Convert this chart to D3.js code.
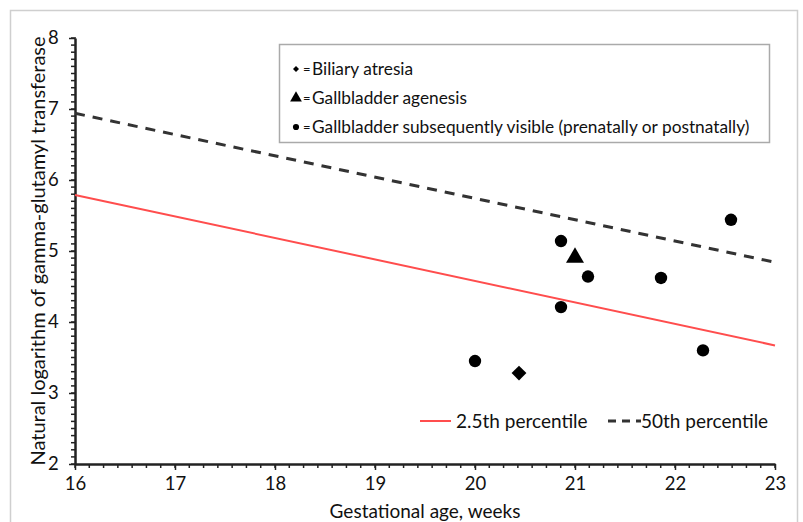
<!DOCTYPE html>
<html><head><meta charset="utf-8">
<script src="https://cdn.jsdelivr.net/npm/d3@7"></script>
<style>
body{margin:0;background:#fff;}
text{font-family:"Lato","Open Sans",sans-serif;fill:#111;}
</style></head>
<body><svg id="c" width="803" height="522"></svg>
<script>
// data
const xTicks = [16,17,18,19,20,21,22,23];
const yTicks = [2,3,4,5,6,7,8];
const circlePoints = [[20.0,3.45],[20.86,5.14],[21.13,4.64],[20.86,4.21],[21.86,4.62],[22.28,3.60],[22.56,5.44]];
const diamondPoints = [[20.44,3.28]];
const trianglePoints = [[21.0,4.92]];
const p25Line = [[16,5.79],[23,3.67]];
const p50Line = [[16,6.94],[23,4.84]];
const legendLabels = ["Biliary atresia","Gallbladder agenesis","Gallbladder subsequently visible (prenatally or postnatally)"];

const svg = d3.select("#c");
// outer frame
svg.append("rect").attr("x",10.5).attr("y",10.5).attr("width",787).attr("height",530)
  .attr("fill","none").attr("stroke","#cfcfcf").attr("stroke-width",1.5);

const x = d3.scaleLinear().domain([16,23]).range([75,775]);
const y = d3.scaleLinear().domain([2,8]).range([464,38]);

// minor ticks
const g = svg.append("g");
const xMinor = d3.range(16,23.0001,1/7);
g.selectAll(".xm").data(xMinor).join("line")
  .attr("x1",d=>x(d)).attr("x2",d=>x(d)).attr("y1",y(2)).attr("y2",y(2)+4)
  .attr("stroke","#222").attr("stroke-width",1.5);
const yMinor = d3.range(2,8.0001,0.1);
g.selectAll(".ym").data(yMinor).join("line")
  .attr("x1",x(16)-4).attr("x2",x(16)+1).attr("y1",d=>y(d)).attr("y2",d=>y(d))
  .attr("stroke","#222").attr("stroke-width",1.5);

// axes
const xAxis = svg.append("g").attr("transform",`translate(0,${y(2)})`)
  .call(d3.axisBottom(x).tickValues(xTicks).tickFormat(d3.format("d")).tickSize(6).tickSizeOuter(0));
const yAxis = svg.append("g").attr("transform",`translate(${x(16)},0)`)
  .call(d3.axisLeft(y).tickValues(yTicks).tickFormat(d3.format("d")).tickSize(6).tickSizeOuter(0));
[xAxis,yAxis].forEach(a=>{
  a.select(".domain").attr("stroke","#222").attr("stroke-width",2.5);
  a.selectAll(".tick line").attr("stroke","#222").attr("stroke-width",1.5);
  a.selectAll(".tick text").attr("font-size",18.5).attr("fill","#111");
});
xAxis.selectAll(".tick text").attr("dy","0.9em");
yAxis.selectAll(".tick text").attr("dx","-0.4em");

// titles
svg.append("text").attr("x",(x(16)+x(23))/2).attr("y",518).attr("text-anchor","middle")
  .attr("font-size",19).text("Gestational age, weeks");
svg.append("text").attr("transform",`translate(45,${(y(2)+y(8))/2}) rotate(-90)`)
  .attr("text-anchor","middle").attr("font-size",20)
  .text("Natural logarithm of gamma-glutamyl transferase");

// lines
const line = d3.line().x(d=>x(d[0])).y(d=>y(d[1]));
svg.append("path").datum(p25Line).attr("d",line).attr("fill","none")
  .attr("stroke","#ff4d4d").attr("stroke-width",2);
svg.append("path").datum(p50Line).attr("d",line).attr("fill","none")
  .attr("stroke","#333").attr("stroke-width",3).attr("stroke-dasharray","10,8");

// points
svg.selectAll(".pc").data(circlePoints).join("circle")
  .attr("cx",d=>x(d[0])).attr("cy",d=>y(d[1])).attr("r",6.2).attr("fill","#000");
const sym = (type,size)=>d3.symbol().type(type).size(size)();
svg.selectAll(".pd").data(diamondPoints).join("path")
  .attr("transform",d=>`translate(${x(d[0])},${y(d[1])}) rotate(45)`)
  .attr("d",sym(d3.symbolSquare,110)).attr("fill","#000");
svg.selectAll(".pt").data(trianglePoints).join("path")
  .attr("transform",d=>`translate(${x(d[0])},${y(d[1])+1})`)
  .attr("d",sym(d3.symbolTriangle,140)).attr("fill","#000");

// top legend
svg.append("rect").attr("x",279.5).attr("y",44.5).attr("width",490).attr("height",98)
  .attr("fill","#fff").attr("stroke","#aaa").attr("stroke-width",1.5);
const legY = [69,98,127];
const legShapes = [
  {t:d3.symbolSquare,s:18,r:45},
  {t:d3.symbolTriangle,s:60,r:0},
  {t:d3.symbolCircle,s:30,r:0}
];
legendLabels.forEach((lab,i)=>{
  svg.append("path").attr("transform",`translate(296,${legY[i]}) rotate(${legShapes[i].r})`)
    .attr("d",sym(legShapes[i].t,legShapes[i].s)).attr("fill","#000");
  svg.append("text").attr("x",303).attr("y",legY[i]).attr("dy","0.35em")
    .attr("font-size",13).attr("fill","#888").text("=");
  svg.append("text").attr("x",312).attr("y",legY[i]).attr("dy","0.35em")
    .attr("font-size",17.3).text(lab);
});

// bottom legend
svg.append("line").attr("x1",420).attr("x2",451).attr("y1",421).attr("y2",421)
  .attr("stroke","#ff4d4d").attr("stroke-width",2);
svg.append("text").attr("x",456).attr("y",421).attr("dy","0.35em").attr("font-size",19)
  .text("2.5th percentile");
svg.append("line").attr("x1",608).attr("x2",641).attr("y1",421).attr("y2",421)
  .attr("stroke","#333").attr("stroke-width",3).attr("stroke-dasharray","8,6");
svg.append("text").attr("x",641).attr("y",421).attr("dy","0.35em").attr("font-size",19)
  .text("50th percentile");
</script></body></html>
